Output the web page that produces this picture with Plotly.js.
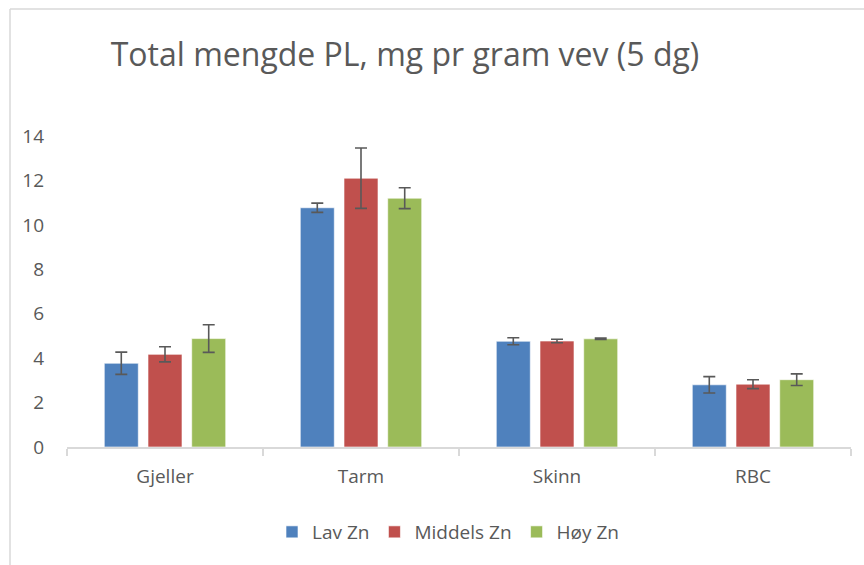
<!DOCTYPE html>
<html>
<head>
<meta charset="utf-8">
<script src="https://cdn.plot.ly/plotly-3.0.1.min.js"></script>
<style>
html,body{margin:0;padding:0;background:#fff;}
#chart{width:864px;height:565px;}
</style>
</head>
<body>
<div id="chart"></div>
<script>
const categories = ["Gjeller", "Tarm", "Skinn", "RBC"];
const seriesNames = ["Lav Zn", "Middels Zn", "Høy Zn"];
const lavZn = [3.77, 10.77, 4.76, 2.80];
const middelsZn = [4.17, 12.10, 4.77, 2.83];
const hoyZn = [4.88, 11.20, 4.87, 3.03];
const lavErr = [0.50, 0.21, 0.16, 0.37];
const middelsErr = [0.34, 1.36, 0.08, 0.20];
const hoyErr = [0.62, 0.47, 0.03, 0.26];
const colors = ["#4F81BD", "#C0504D", "#9BBB59"];
const yTicks = [0, 2, 4, 6, 8, 10, 12, 14];

const values = [lavZn, middelsZn, hoyZn];
const errs = [lavErr, middelsErr, hoyErr];
const textColor = "#595959";
const fontFam = "'Open Sans', 'Noto Sans', sans-serif";

const traces = seriesNames.map((name, i) => ({
  type: "bar",
  name: name,
  x: categories,
  y: values[i],
  marker: {color: colors[i], line: {color: "rgba(255,255,255,0.6)", width: 1}},
  error_y: {type: "data", array: errs[i], visible: true, color: "#595959", thickness: 1.6, width: 6}
}));

const W = 864, H = 565;
const L = 67, R = 13, T = 136, B = 118;
const pw = W - L - R, ph = H - T - B;
const px2x = p => (p - L) / pw;
const py2y = p => (H - B - p) / ph;

const layout = {
  width: W, height: H,
  margin: {l: L, r: R, t: T, b: B, pad: 0},
  paper_bgcolor: "#fff",
  plot_bgcolor: "#fff",
  barmode: "group",
  bargap: 0.331,
  bargroupgap: 0.222,
  font: {family: fontFam, color: textColor, size: 19},
  title: {
    text: "Total mengde PL, mg pr gram vev (5 dg)",
    font: {family: fontFam, size: 32, color: textColor},
    xref: "container", yref: "container",
    x: 405 / W, y: 1 - 55 / H, xanchor: "center", yanchor: "middle"
  },
  xaxis: {
    type: "category",
    showline: true, linecolor: "#d9d9d9", linewidth: 1.5,
    ticks: "outside", tickson: "boundaries", ticklen: 7, tickcolor: "#d9d9d9", tickwidth: 1.5,
    showgrid: false, zeroline: false,
    tickfont: {size: 19, color: textColor, family: fontFam},
    ticklabelstandoff: 12
  },
  yaxis: {
    range: [0, 14],
    tickvals: yTicks,
    ticktext: yTicks.map(String),
    showgrid: false, zeroline: false, showline: false,
    ticks: "", ticklabelstandoff: 22,
    tickfont: {size: 19, color: textColor, family: fontFam}
  },
  showlegend: true,
  legend: {
    orientation: "h",
    x: px2x(448), xanchor: "center",
    y: py2y(532), yanchor: "middle",
    font: {size: 19, color: textColor, family: fontFam},
    traceorder: "normal",
    itemwidth: 30
  },
  shapes: [
    {type: "line", xref: "paper", yref: "paper", x0: px2x(10), x1: px2x(10), y0: py2y(9), y1: py2y(600), line: {color: "#d9d9d9", width: 1.5}, layer: "below"},
    {type: "line", xref: "paper", yref: "paper", x0: px2x(10), x1: px2x(900), y0: py2y(9), y1: py2y(9), line: {color: "#d9d9d9", width: 1.5}, layer: "below"}
  ]
};

Plotly.newPlot("chart", traces, layout, {displayModeBar: false, staticPlot: true});
</script>
</body>
</html>
